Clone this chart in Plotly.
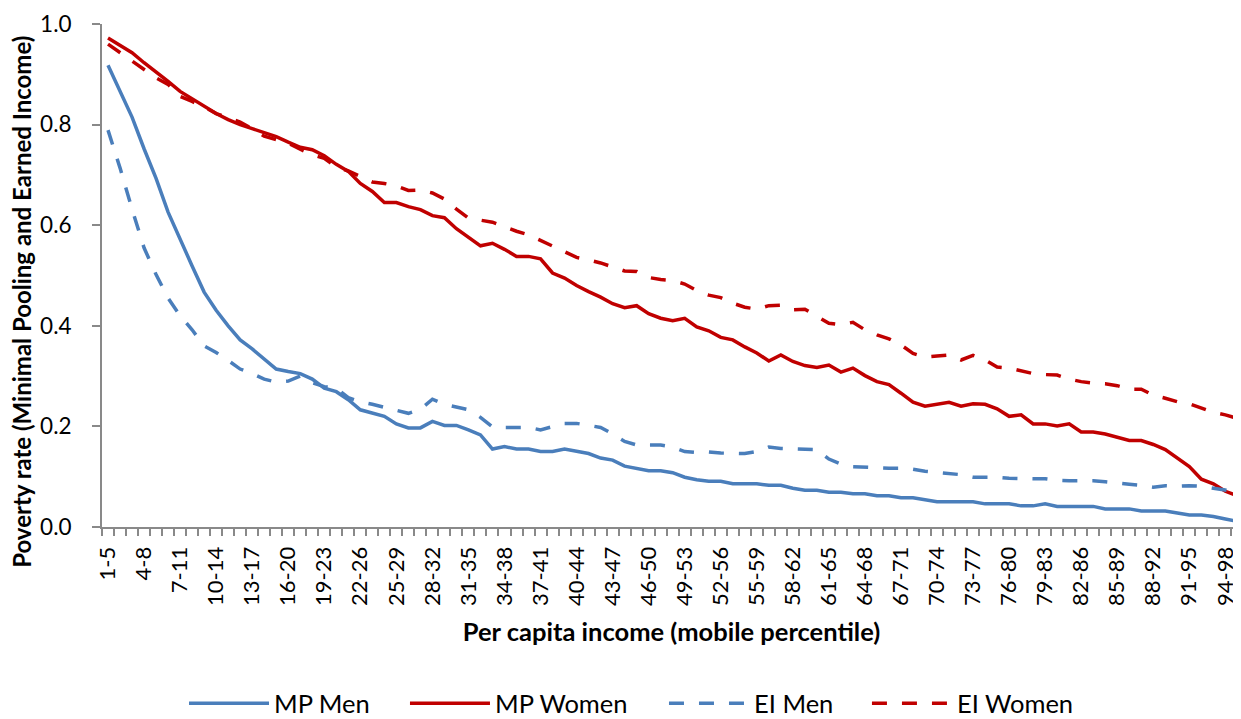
import plotly.graph_objects as go

categories = [f"{i}-{i+4}" for i in range(1, 96)]

mp_men = [0.918, 0.867, 0.815, 0.752, 0.693, 0.626, 0.571, 0.519, 0.467, 0.431,
          0.400, 0.372, 0.354, 0.334, 0.314, 0.309, 0.305, 0.294, 0.276, 0.269,
          0.253, 0.233, 0.227, 0.220, 0.205, 0.197, 0.197, 0.210, 0.202, 0.202,
          0.193, 0.183, 0.155, 0.160, 0.155, 0.155, 0.150, 0.150, 0.155, 0.150,
          0.146, 0.137, 0.133, 0.121, 0.116, 0.112, 0.112, 0.108, 0.099, 0.094,
          0.091, 0.091, 0.086, 0.086, 0.086, 0.083, 0.083, 0.077, 0.073, 0.073,
          0.069, 0.069, 0.066, 0.066, 0.062, 0.062, 0.058, 0.058, 0.054, 0.050,
          0.050, 0.050, 0.050, 0.046, 0.046, 0.046, 0.042, 0.042, 0.046, 0.041,
          0.041, 0.041, 0.041, 0.036, 0.036, 0.036, 0.032, 0.032, 0.032, 0.028,
          0.024, 0.024, 0.021, 0.016, 0.011]

mp_women = [0.972, 0.958, 0.943, 0.923, 0.905, 0.886, 0.866, 0.851, 0.835, 0.822,
            0.810, 0.800, 0.792, 0.784, 0.776, 0.765, 0.755, 0.750, 0.738, 0.721,
            0.707, 0.683, 0.667, 0.645, 0.645, 0.637, 0.631, 0.619, 0.615, 0.593,
            0.576, 0.559, 0.564, 0.552, 0.538, 0.538, 0.533, 0.505, 0.495, 0.480,
            0.468, 0.457, 0.444, 0.436, 0.440, 0.424, 0.415, 0.410, 0.415, 0.398,
            0.390, 0.377, 0.372, 0.358, 0.346, 0.330, 0.342, 0.329, 0.321, 0.317,
            0.322, 0.308, 0.316, 0.301, 0.289, 0.283, 0.266, 0.248, 0.240, 0.244,
            0.248, 0.240, 0.245, 0.244, 0.235, 0.220, 0.223, 0.205, 0.205, 0.201,
            0.205, 0.189, 0.189, 0.185, 0.178, 0.172, 0.172, 0.164, 0.154, 0.137,
            0.120, 0.095, 0.086, 0.071, 0.062]

ei_men = [0.789, 0.714, 0.632, 0.555, 0.502, 0.455, 0.420, 0.392, 0.360, 0.347,
          0.331, 0.314, 0.305, 0.294, 0.288, 0.290, 0.300, 0.287, 0.279, 0.276,
          0.257, 0.249, 0.244, 0.238, 0.231, 0.226, 0.234, 0.254, 0.244, 0.238,
          0.233, 0.218, 0.199, 0.198, 0.198, 0.198, 0.193, 0.199, 0.206, 0.206,
          0.202, 0.198, 0.185, 0.170, 0.163, 0.163, 0.163, 0.159, 0.150, 0.148,
          0.149, 0.147, 0.146, 0.146, 0.150, 0.159, 0.156, 0.155, 0.155, 0.154,
          0.135, 0.125, 0.120, 0.119, 0.117, 0.117, 0.117, 0.115, 0.111, 0.109,
          0.107, 0.104, 0.099, 0.099, 0.099, 0.097, 0.096, 0.096, 0.096, 0.093,
          0.092, 0.092, 0.092, 0.090, 0.087, 0.085, 0.083, 0.079, 0.082, 0.081,
          0.082, 0.081, 0.077, 0.074, 0.070]

ei_women = [0.960, 0.943, 0.925, 0.909, 0.893, 0.880, 0.856, 0.846, 0.835, 0.822,
            0.814, 0.805, 0.792, 0.777, 0.770, 0.763, 0.751, 0.740, 0.733, 0.716,
            0.708, 0.697, 0.686, 0.683, 0.678, 0.669, 0.670, 0.664, 0.652, 0.632,
            0.614, 0.610, 0.606, 0.597, 0.588, 0.581, 0.570, 0.558, 0.547, 0.536,
            0.531, 0.525, 0.517, 0.509, 0.508, 0.496, 0.492, 0.490, 0.483, 0.470,
            0.461, 0.456, 0.445, 0.437, 0.433, 0.440, 0.441, 0.432, 0.433, 0.419,
            0.405, 0.402, 0.407, 0.392, 0.382, 0.374, 0.362, 0.345, 0.338, 0.340,
            0.342, 0.332, 0.341, 0.332, 0.318, 0.316, 0.310, 0.305, 0.303, 0.302,
            0.294, 0.289, 0.286, 0.285, 0.281, 0.274, 0.274, 0.262, 0.256, 0.249,
            0.245, 0.236, 0.228, 0.223, 0.216]

y_ticks = [0.0, 0.2, 0.4, 0.6, 0.8, 1.0]

BLUE = "#4A7EBB"
RED = "#C00000"
AXIS = "#898989"
FONT = "Lato"

series = [
    ("MP Men", mp_men, BLUE, "solid", "legend"),
    ("MP Women", mp_women, RED, "solid", "legend2"),
    ("EI Men", ei_men, BLUE, "15px,15px", "legend3"),
    ("EI Women", ei_women, RED, "15px,15px", "legend4"),
]

fig = go.Figure()
for name, vals, color, dash, leg in series:
    fig.add_trace(go.Scatter(
        x=categories, y=vals, name=name, mode="lines",
        line=dict(color=color, width=3.5, dash=dash),
        legend=leg, showlegend=True, hoverinfo="skip",
    ))

ticktext = [c if i % 3 == 0 else "" for i, c in enumerate(categories)]

# the page body has an 8px margin, so the figure is 8px smaller than the window
fig.update_layout(
    width=1233, height=711,
    showlegend=True,
    margin=dict(l=94, r=0, t=16, b=192, autoexpand=False),
    paper_bgcolor="white", plot_bgcolor="white",
    font=dict(family=FONT, size=21, color="black"),
    xaxis=dict(
        type="category", range=[-0.5, 94.3],
        tickmode="array", tickvals=categories, ticktext=ticktext,
        tickson="boundaries", ticks="outside", ticklen=7, tickwidth=1.5,
        tickcolor=AXIS, tickangle=-90, ticklabelstandoff=9,
        showline=True, linecolor=AXIS, linewidth=2,
        showgrid=False, zeroline=False, automargin=False,
        tickfont=dict(family=FONT, size=22),
        title=dict(text="<b>Per capita income (mobile percentile)</b>",
                   font=dict(family=FONT, size=25.5), standoff=18),
    ),
    yaxis=dict(
        range=[0, 1.0], tickmode="array", tickvals=y_ticks, tickformat=".1f",
        ticks="outside", ticklen=8, tickwidth=1.5, tickcolor=AXIS,
        ticklabelstandoff=16,
        showline=True, linecolor=AXIS, linewidth=2,
        showgrid=False, zeroline=False, automargin=False,
        tickfont=dict(family=FONT, size=22.5),
    ),
    annotations=[dict(
        text="<b>Poverty rate (Minimal Pooling and Earned Income)</b>",
        xref="paper", yref="paper", x=0, y=0.4476, xshift=-80,
        xanchor="center", yanchor="middle", textangle=-90, showarrow=False,
        font=dict(family=FONT, size=24, color="black"),
    )],
)

leg_x = {"legend": 0.072, "legend2": 0.266, "legend3": 0.4934, "legend4": 0.6716}
for leg, x in leg_x.items():
    fig.update_layout({leg: dict(
        x=x, y=-0.351, xanchor="left", yanchor="middle", orientation="h",
        font=dict(family=FONT, size=25.5), bgcolor="rgba(0,0,0,0)",
        itemwidth=80,
    )})

fig.write_html("out.html")
